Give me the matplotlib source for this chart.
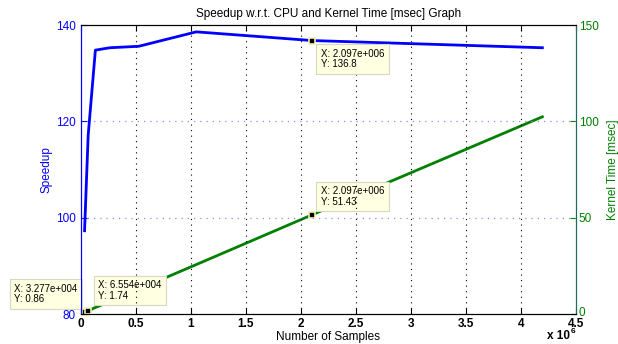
import numpy as np
import matplotlib
matplotlib.use("Agg")
import matplotlib.pyplot as plt
import matplotlib.transforms as mtransforms

plt.rcParams['font.family'] = ['Liberation Sans', 'DejaVu Sans']

samples = [32768, 65536, 131072, 262144, 524288, 1048576, 2097152, 4194304]
speedup = [97.3, 117.1, 134.8, 135.3, 135.6, 138.6, 136.8, 135.3]
kernel_ms = [0.86, 1.74, 3.4, 6.5, 12.9, 25.7, 51.43, 102.4]
xticks = [0, 0.5, 1, 1.5, 2, 2.5, 3, 3.5, 4, 4.5]

blue = (0, 0, 1)
green = (0, 0.5, 0)
tipface = '#ffffe1'

fig = plt.figure(figsize=(6.18, 3.44), dpi=100)
ax = fig.add_axes([0.131, 0.087, 0.801, 0.840])
ax2 = ax.twinx()

x = np.array(samples) / 1e6
ax.plot(x, speedup, color=blue, linewidth=2, zorder=3)
ax2.plot(x, kernel_ms, color=green, linewidth=2, zorder=3)

ax.set_xlim(0, 4.5)
ax.set_ylim(80, 140)
ax2.set_ylim(0, 150)
ax.set_xticks(xticks)
ax.set_xticklabels([('%g' % t) for t in xticks], fontweight='bold', fontsize=8.5)
ax.set_yticks([80, 100, 120, 140])
ax2.set_yticks([0, 50, 100, 150])

ax.tick_params(axis='y', colors=blue, labelsize=8.5, direction='in', length=4)
ax.tick_params(axis='x', direction='in', length=4, top=True, labelsize=8.5, pad=2.5)
ax2.tick_params(axis='y', colors=green, labelsize=8.5, direction='in', length=4, pad=2)

# nudge the green "0" up a little so it clears the 4.5 label
lab0 = ax2.get_yticklabels()[0]
lab0.set_transform(lab0.get_transform() +
                   mtransforms.ScaledTranslation(0, 2 / 72, fig.dpi_scale_trans))

ax.spines['left'].set_color(blue)
ax2.spines['left'].set_color(blue)
ax2.spines['right'].set_color('#1f6b5a')
ax.spines['right'].set_color('#1f6b5a')

# grid
for t in xticks[1:-1]:
    ax.axvline(t, color='black', linestyle=(0, (1, 4)), linewidth=0.8, zorder=1)
for v in [100, 120]:
    ax.axhline(v, color=(0.55, 0.55, 1.0), linestyle=(0, (1, 4)), linewidth=0.9, zorder=1)

ax.set_title('Speedup w.r.t. CPU and Kernel Time [msec] Graph', fontsize=8.5, pad=6)
ax.set_xlabel('Number of Samples', fontsize=8.5, labelpad=1)
ax.set_ylabel('Speedup', color=blue, fontsize=8.5, labelpad=3)
ax2.set_ylabel('Kernel Time [msec]', color=green, fontsize=8.5, labelpad=6)

# exponent label, matlab style
fig.text(570 / 618, 1 - 339 / 344, 'x 10', fontsize=8.5, fontweight='bold',
         ha='right', va='baseline')
fig.text(571 / 618, 1 - 333 / 344, '6', fontsize=6, fontweight='bold',
         ha='left', va='baseline')

ax.set_zorder(ax2.get_zorder() + 1)
ax.patch.set_visible(False)


def tip(axis, xi, yi, xoff, yoff, ha, va):
    axis.plot([x[xi]], [yi], marker='s', color='black', markersize=5,
              markeredgecolor='#f5f0b0', markeredgewidth=1.2, zorder=6, clip_on=False)
    label = 'X: %.3e\nY: %s' % (samples[xi], ('%.4g' % yi))
    label = label.replace('e+06', 'e+006').replace('e+04', 'e+004')
    axis.annotate(label, xy=(x[xi], yi), xytext=(xoff, yoff), textcoords='offset pixels',
                  ha=ha, va=va, multialignment='left', fontsize=7, linespacing=1.1, zorder=7,
                  bbox=dict(boxstyle='square,pad=0.45', facecolor=tipface,
                            edgecolor='#d8d8c0', linewidth=0.8),
                  annotation_clip=False)


tip(ax, 6, speedup[6], 9, -8, 'left', 'top')
tip(ax2, 6, kernel_ms[6], 9, 8, 'left', 'bottom')
tip(ax2, 0, kernel_ms[0], -7, 8, 'right', 'bottom')
tip(ax2, 1, kernel_ms[1], 10, 10, 'left', 'bottom')

fig.savefig('out.png', dpi=100)
